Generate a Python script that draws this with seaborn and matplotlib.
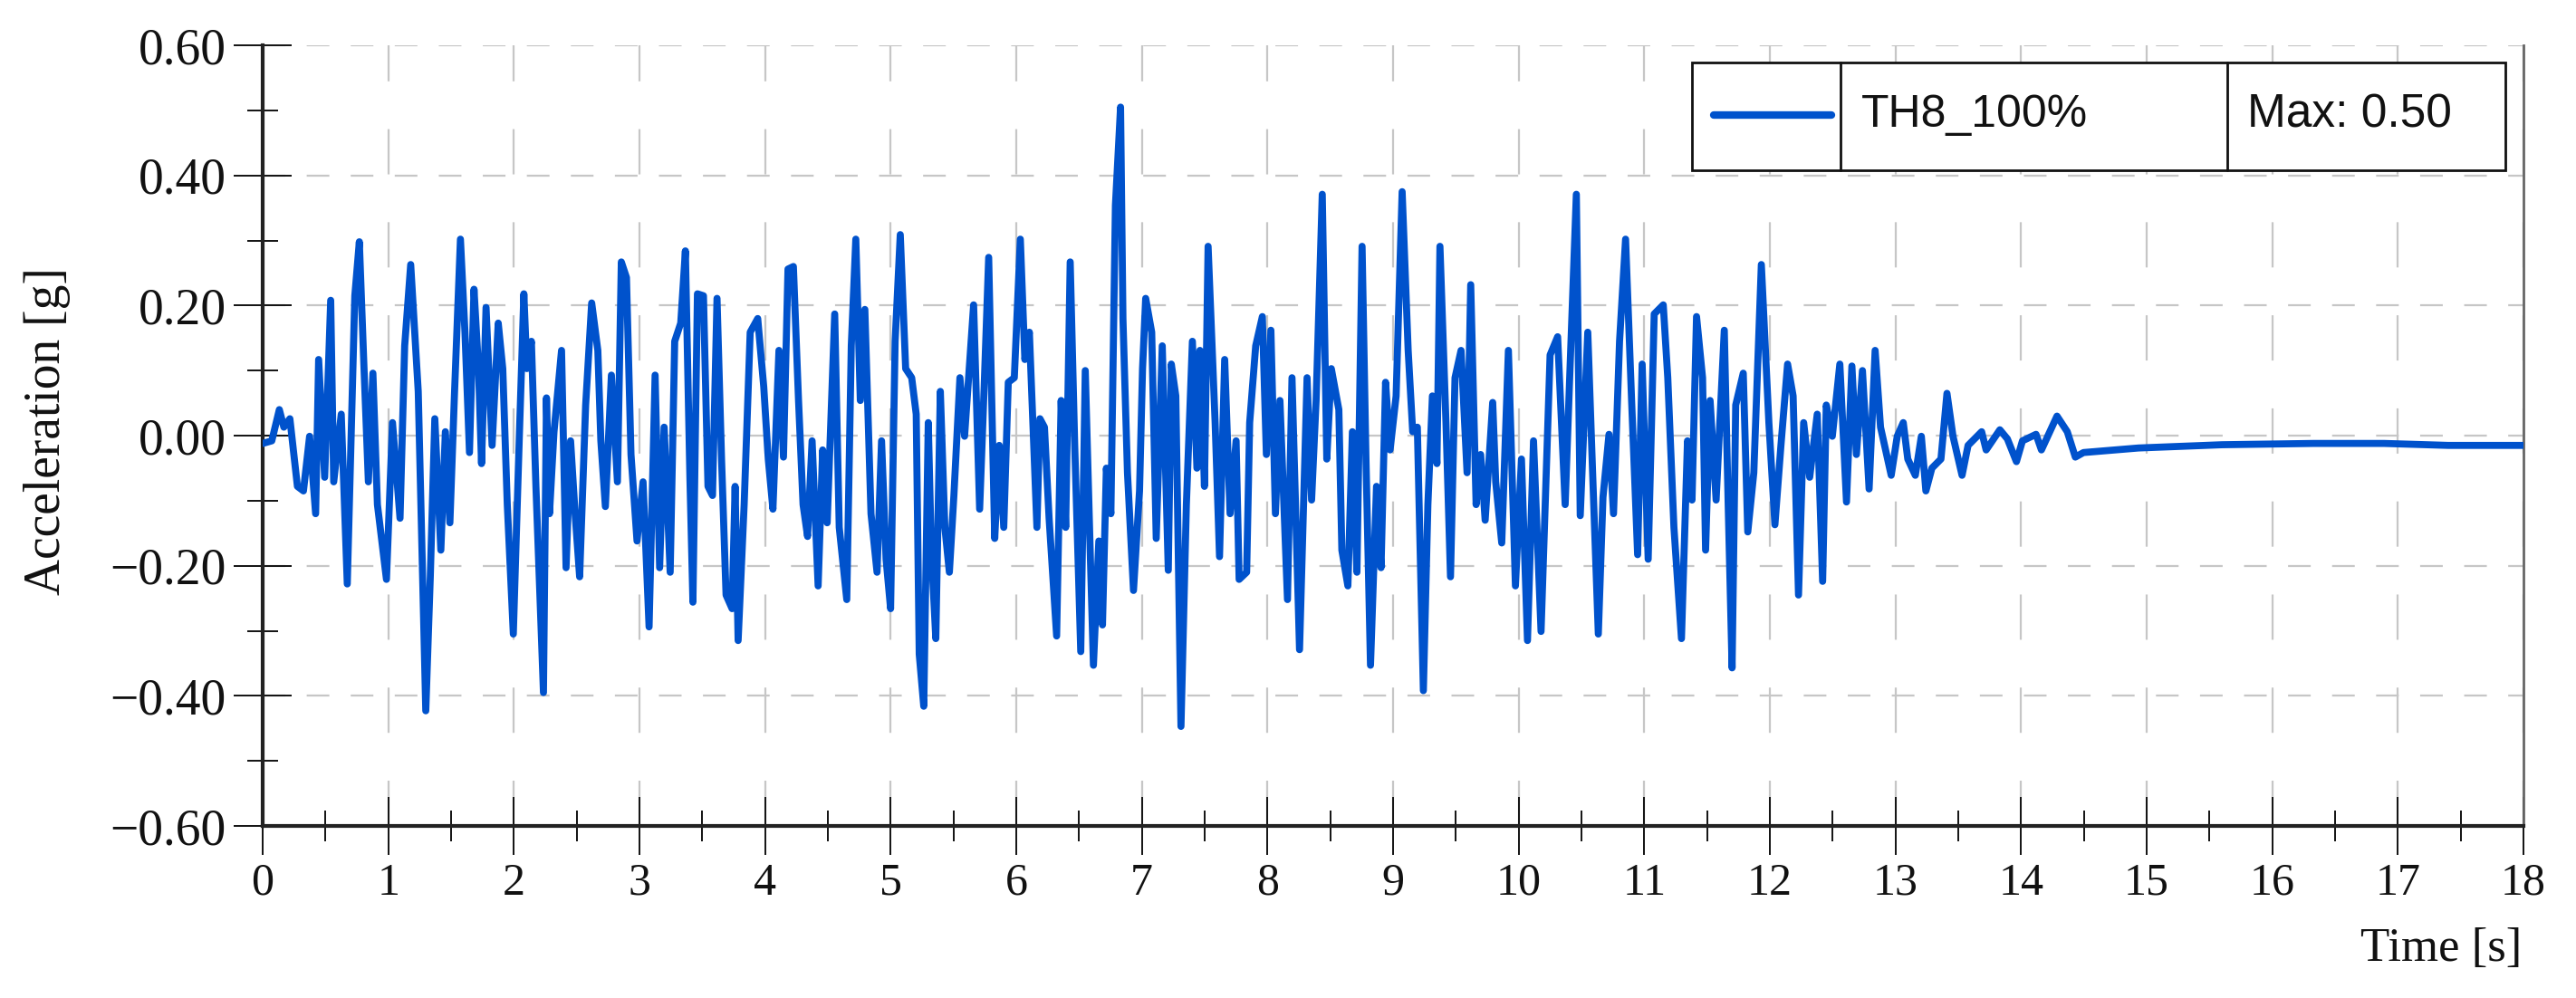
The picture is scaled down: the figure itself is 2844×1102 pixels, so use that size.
import numpy as np
import pandas as pd
import matplotlib
matplotlib.use("Agg")
import matplotlib.pyplot as plt
import seaborn as sns
from matplotlib.ticker import MultipleLocator, FixedLocator, FixedFormatter
from matplotlib.patches import Rectangle
from matplotlib.lines import Line2D

# ---------------- data ----------------
t_00_02 = [0.0, 0.072, 0.132, 0.168, 0.216, 0.276, 0.324, 0.373, 0.421, 0.445, 0.493, 0.541, 0.565, 0.625,
           0.673, 0.697, 0.733, 0.769, 0.805, 0.841, 0.877, 0.913, 0.985, 1.033, 1.093, 1.130, 1.178, 1.238,
           1.298, 1.334, 1.370, 1.418, 1.454, 1.490, 1.526, 1.574, 1.610, 1.646, 1.682, 1.718, 1.742, 1.778,
           1.826, 1.875, 1.911, 1.947, 1.995]
a_00_02 = [-0.012, -0.008, 0.040, 0.013, 0.026, -0.078, -0.085, -0.001, -0.120, 0.117, -0.064, 0.208, -0.071,
           0.033, -0.228, -0.050, 0.215, 0.298, 0.110, -0.071, 0.096, -0.106, -0.221, 0.020, -0.127, 0.138,
           0.263, 0.068, -0.423, -0.217, 0.026, -0.176, 0.006, -0.134, 0.061, 0.302, 0.159, -0.026, 0.225,
           0.103, -0.043, 0.197, -0.015, 0.173, 0.103, -0.106, -0.305]

t_02_04 = [2.043, 2.079, 2.103, 2.139, 2.175, 2.235, 2.259, 2.283, 2.319, 2.379, 2.415, 2.451, 2.487, 2.523,
           2.571, 2.619, 2.668, 2.692, 2.728, 2.776, 2.824, 2.855, 2.896, 2.932, 2.980, 3.028, 3.076, 3.124,
           3.160, 3.196, 3.244, 3.280, 3.328, 3.365, 3.401, 3.425, 3.461, 3.509, 3.545, 3.581, 3.617, 3.653,
           3.689, 3.737, 3.761, 3.785, 3.833, 3.881, 3.941, 3.989, 4.025]
a_02_04 = [-0.001, 0.218, 0.103, 0.145, -0.078, -0.395, 0.058, -0.120, 0.006, 0.131, -0.203, -0.008, -0.120,
           -0.217, 0.047, 0.204, 0.131, -0.008, -0.109, 0.093, -0.071, 0.267, 0.243, -0.029, -0.162, -0.071,
           -0.294, 0.093, -0.203, 0.013, -0.210, 0.145, 0.173, 0.284, -0.064, -0.256, 0.218, 0.215, -0.078,
           -0.092, 0.211, -0.036, -0.245, -0.266, -0.078, -0.315, -0.106, 0.159, 0.180, 0.075, -0.036]

t_04_06 = [4.062, 4.110, 4.146, 4.182, 4.225, 4.266, 4.302, 4.338, 4.374, 4.422, 4.458, 4.494, 4.554, 4.590,
           4.650, 4.686, 4.722, 4.758, 4.794, 4.843, 4.891, 4.927, 4.963, 4.999, 5.035, 5.076, 5.119, 5.167,
           5.203, 5.227, 5.263, 5.299, 5.323, 5.359, 5.395, 5.431, 5.467, 5.503, 5.551, 5.588, 5.660, 5.708,
           5.744, 5.780, 5.828, 5.864, 5.900, 5.936, 5.984]
a_04_06 = [-0.113, 0.131, -0.033, 0.256, 0.260, 0.054, -0.106, -0.155, -0.008, -0.231, -0.022, -0.134, 0.187,
           -0.141, -0.252, 0.138, 0.302, 0.054, 0.194, -0.120, -0.210, -0.008, -0.190, -0.266, 0.145, 0.309,
           0.103, 0.089, 0.033, -0.336, -0.416, 0.020, -0.176, -0.312, 0.068, -0.141, -0.210, -0.092, 0.089,
           -0.001, 0.201, -0.113, 0.075, 0.274, -0.158, -0.015, -0.141, 0.082, 0.089]

t_06_08 = [6.032, 6.068, 6.104, 6.164, 6.188, 6.224, 6.261, 6.321, 6.357, 6.393, 6.429, 6.465, 6.513, 6.549,
           6.585, 6.614, 6.657, 6.686, 6.717, 6.753, 6.789, 6.830, 6.849, 6.885, 6.933, 6.981, 7.005, 7.030,
           7.078, 7.114, 7.162, 7.210, 7.234, 7.270, 7.311, 7.354, 7.402, 7.438, 7.462, 7.498, 7.527, 7.583,
           7.618, 7.659, 7.702, 7.750, 7.774, 7.834, 7.858, 7.906, 7.959, 7.991, 8.027, 8.063]
a_06_08 = [0.302, 0.117, 0.159, -0.141, 0.026, 0.013, -0.127, -0.308, 0.054, -0.141, 0.267, -0.015, -0.332,
           0.100, -0.155, -0.353, -0.162, -0.291, -0.050, -0.120, 0.354, 0.505, 0.180, -0.057, -0.238, -0.085,
           0.103, 0.211, 0.159, -0.158, 0.138, -0.207, 0.110, 0.061, -0.447, -0.106, 0.145, -0.050, 0.131,
           -0.078, 0.291, 0.020, -0.186, 0.117, -0.120, -0.008, -0.221, -0.210, 0.020, 0.138, 0.183, -0.029,
           0.162, -0.120]

t_08_10 = [8.099, 8.159, 8.195, 8.255, 8.315, 8.351, 8.387, 8.436, 8.472, 8.508, 8.568, 8.592, 8.640, 8.676,
           8.712, 8.753, 8.784, 8.820, 8.868, 8.904, 8.940, 8.976, 9.024, 9.072, 9.120, 9.156, 9.193, 9.241,
           9.277, 9.313, 9.349, 9.373, 9.421, 9.457, 9.493, 9.541, 9.589, 9.618, 9.661, 9.697, 9.733, 9.793,
           9.817, 9.865, 9.918, 9.974, 10.022, 10.070]
a_08_10 = [0.054, -0.252, 0.089, -0.329, 0.089, -0.099, 0.054, 0.371, -0.036, 0.103, 0.040, -0.176, -0.231,
           0.006, -0.210, 0.291, -0.036, -0.353, -0.078, -0.203, 0.082, -0.022, 0.061, 0.375, 0.131, 0.006,
           0.013, -0.392, -0.106, 0.061, -0.043, 0.291, 0.020, -0.217, 0.089, 0.131, -0.057, 0.232, -0.106,
           -0.029, -0.130, 0.051, -0.071, -0.165, 0.131, -0.231, -0.036, -0.315]

t_10_12 = [10.118, 10.178, 10.250, 10.310, 10.370, 10.406, 10.459, 10.490, 10.550, 10.586, 10.634, 10.671,
           10.719, 10.755, 10.803, 10.851, 10.899, 10.947, 10.983, 11.031, 11.079, 11.151, 11.187, 11.236,
           11.296, 11.344, 11.380, 11.416, 11.464, 11.488, 11.524, 11.572, 11.637, 11.668, 11.699, 11.728,
           11.788, 11.824, 11.872, 11.932, 11.992, 12.040, 12.088]
a_10_12 = [-0.008, -0.301, 0.124, 0.152, -0.106, 0.089, 0.371, -0.123, 0.159, -0.043, -0.305, -0.095, 0.002,
           -0.120, 0.145, 0.302, 0.054, -0.183, 0.110, -0.190, 0.187, 0.201, 0.089, -0.141, -0.312, -0.008,
           -0.099, 0.183, 0.089, -0.176, 0.054, -0.099, 0.162, -0.106, -0.357, 0.047, 0.096, -0.148, -0.057,
           0.263, 0.020, -0.137, -0.015]

t_12_14 = [12.141, 12.185, 12.228, 12.269, 12.317, 12.377, 12.420, 12.449, 12.497, 12.557, 12.610, 12.653,
           12.689, 12.737, 12.790, 12.838, 12.881, 12.966, 13.014, 13.062, 13.098, 13.158, 13.206, 13.242,
           13.290, 13.362, 13.410, 13.458, 13.530, 13.578, 13.686, 13.722, 13.831, 13.891, 13.963, 14.011,
           14.119]
a_12_14 = [0.110, 0.061, -0.245, 0.020, -0.064, 0.033, -0.224, 0.047, -0.001, 0.110, -0.102, 0.107, -0.029,
           0.100, -0.082, 0.131, 0.013, -0.061, -0.001, 0.020, -0.036, -0.061, -0.001, -0.085, -0.050, -0.036,
           0.065, -0.001, -0.061, -0.015, 0.006, -0.022, 0.009, -0.005, -0.040, -0.008, 0.002]

t_14_18 = [14.162, 14.286, 14.368, 14.432, 14.497, 14.935, 15.60, 16.33, 16.89, 17.40, 18.0]
a_14_18 = [-0.022, 0.030, 0.006, -0.033, -0.026, -0.019, -0.014, -0.012, -0.012, -0.015, -0.015]

series_name = "TH8_100%"
max_label = "Max: 0.50"

x_ticks = list(range(0, 19))
x_tick_labels = [str(v) for v in x_ticks]
y_ticks = [-0.60, -0.40, -0.20, 0.00, 0.20, 0.40, 0.60]
y_tick_labels = ["\u22120.60", "\u22120.40", "\u22120.20", "0.00", "0.20", "0.40", "0.60"]

x_label = "Time [s]"
y_label = "Acceleration [g]"

# ---------------- build table ----------------
time_all = t_00_02 + t_02_04 + t_04_06 + t_06_08 + t_08_10 + t_10_12 + t_12_14 + t_14_18
acc_all = a_00_02 + a_02_04 + a_04_06 + a_06_08 + a_08_10 + a_10_12 + a_12_14 + a_14_18
df = pd.DataFrame({"time": time_all, "acc": acc_all, "series": series_name})

# ---------------- style ----------------
sns.set_theme(style="white")
plt.rcParams["font.family"] = ["Liberation Serif", "DejaVu Serif"]
plt.rcParams["lines.scale_dashes"] = False

LINE_COLOR = "#0052cc"
GRID_COLOR = "#c6c6c6"

fig = plt.figure(figsize=(28.44, 11.02), dpi=100)
ax = fig.add_axes([0.102, 0.1724, 0.8776, 0.7822])

sns.lineplot(data=df, x="time", y="acc", ax=ax, color=LINE_COLOR, linewidth=5.6,
             estimator=None, sort=False, legend=False, zorder=3)

ax.set_xlim(0, 18)
ax.set_ylim(-0.60, 0.60)

ax.xaxis.set_major_locator(FixedLocator(x_ticks))
ax.xaxis.set_major_formatter(FixedFormatter(x_tick_labels))
ax.xaxis.set_minor_locator(MultipleLocator(0.5))
ax.yaxis.set_major_locator(FixedLocator(y_ticks))
ax.yaxis.set_major_formatter(FixedFormatter(y_tick_labels))
ax.yaxis.set_minor_locator(MultipleLocator(0.1))

ax.tick_params(axis="both", which="both", bottom=True, left=True, top=False, right=False)
ax.tick_params(axis="both", which="major", direction="inout", length=46, width=1.4, color="#111111")
ax.tick_params(axis="both", which="minor", direction="inout", length=24, width=1.4, color="#111111")
ax.tick_params(axis="x", which="major", labelsize=36, pad=6, labelcolor="#111111")
ax.tick_params(axis="y", which="major", labelsize=40, pad=6, labelcolor="#111111")

# grid
ax.xaxis.grid(True, which="major", color=GRID_COLOR, linewidth=1.6, linestyle=(0, (36, 38)), zorder=0)
ax.yaxis.grid(True, which="major", color=GRID_COLOR, linewidth=1.6, linestyle=(0, (18, 17)), zorder=0)
ax.set_axisbelow(True)

# spines
for s in ["left", "bottom"]:
    ax.spines[s].set_linewidth(3.0)
    ax.spines[s].set_color("#222222")
ax.spines["right"].set_linewidth(2.0)
ax.spines["right"].set_color("#666666")
ax.spines["top"].set_visible(False)

# labels
ax.set_xlabel(x_label, fontsize=38, color="#111111")
ax.xaxis.set_label_coords(0.9995, -0.158)
ax.xaxis.label.set_horizontalalignment("right")
ax.xaxis.label.set_verticalalignment("center")
ax.set_ylabel(y_label, fontsize=40, color="#111111")
ax.yaxis.set_label_coords(-0.0954, 0.506)
ax.yaxis.label.set_verticalalignment("center")

# legend box (table-like)
lx0, lx1 = 0.6322, 0.9920
ly0, ly1 = 0.840, 0.978
div1, div2 = 0.698, 0.869
ax.add_patch(Rectangle((lx0, ly0), lx1 - lx0, ly1 - ly0, transform=ax.transAxes,
                       facecolor="white", edgecolor="#111111", linewidth=2.0, zorder=5))
for xd in (div1, div2):
    ax.add_line(Line2D([xd, xd], [ly0, ly1], transform=ax.transAxes, color="#111111",
                       linewidth=2.0, zorder=6))
ax.add_line(Line2D([0.6418, 0.6939], [0.9107, 0.9107], transform=ax.transAxes, color=LINE_COLOR,
                   linewidth=6.0, solid_capstyle="round", zorder=6))
ax.text(0.7071, 0.911, series_name, transform=ax.transAxes, ha="left", va="center",
        fontsize=36, family=["Liberation Sans", "DejaVu Sans"], color="#111111", zorder=7)
ax.text(0.8778, 0.911, max_label, transform=ax.transAxes, ha="left", va="center",
        fontsize=37, family=["Liberation Sans", "DejaVu Sans"], color="#111111", zorder=7)

fig.savefig("out.png", dpi=100, facecolor="white")
